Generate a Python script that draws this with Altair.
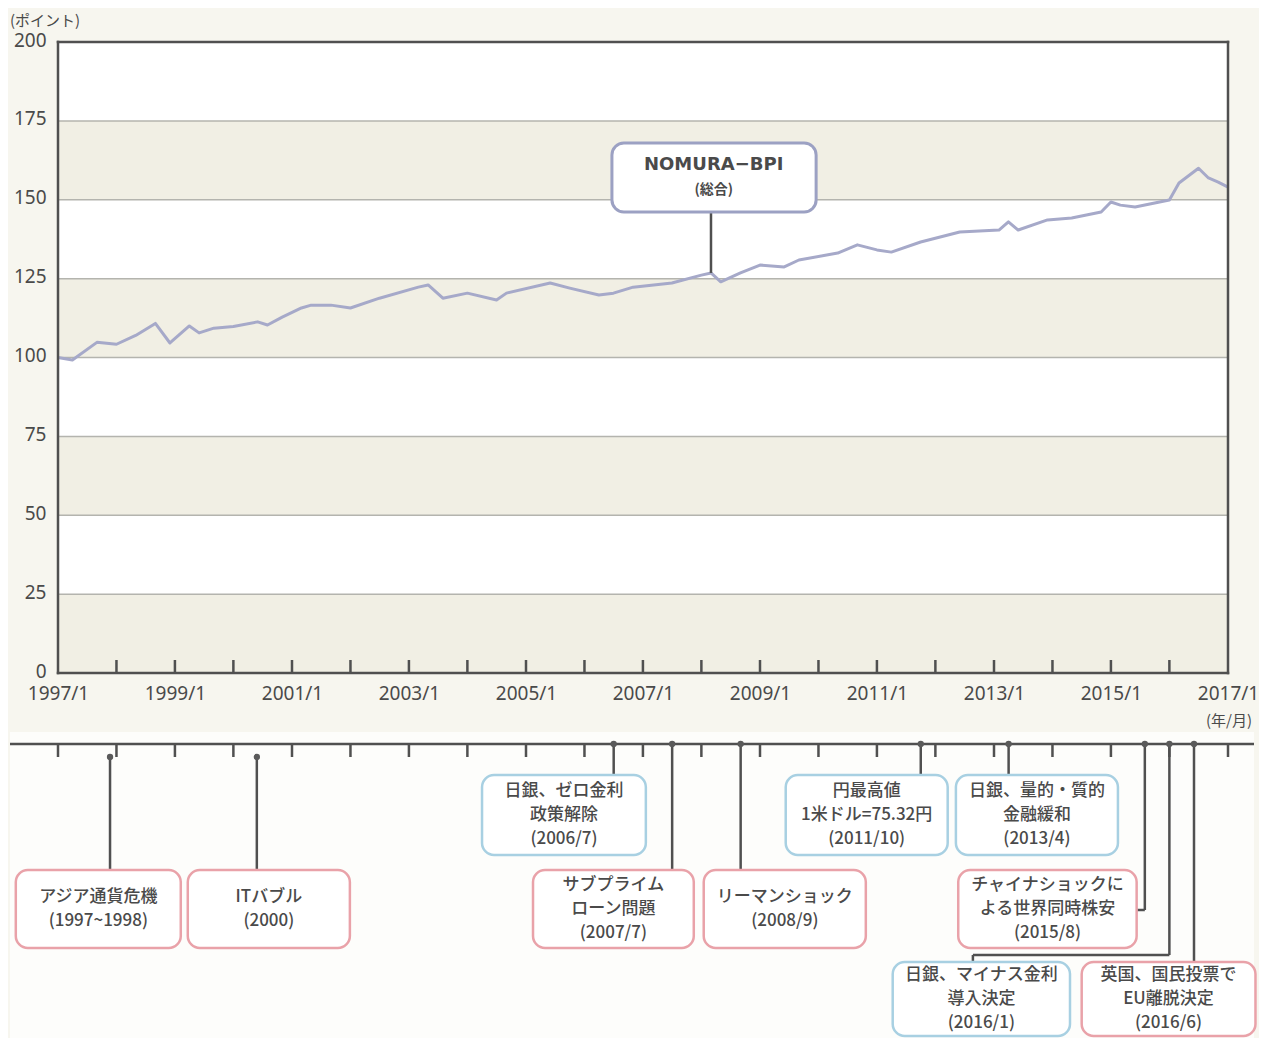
import altair as alt
import pandas as pd

# ---------------- data ----------------
bpi_dates = ["1997-01", "1997-04", "1997-09", "1998-01", "1998-05", "1998-09", "1998-12",
             "1999-04", "1999-06", "1999-09", "2000-01", "2000-06", "2000-08", "2000-11",
             "2001-03", "2001-05", "2001-09", "2002-01", "2002-07", "2003-03", "2003-05",
             "2003-08", "2004-01", "2004-07", "2004-09", "2005-06", "2005-10", "2006-04",
             "2006-07", "2006-11", "2007-07", "2008-01", "2008-03", "2008-05", "2008-09",
             "2009-01", "2009-06", "2009-09", "2010-05", "2010-09", "2011-01", "2011-04",
             "2011-10", "2012-06", "2013-02", "2013-04", "2013-06", "2013-12", "2014-05",
             "2014-11", "2015-01", "2015-03", "2015-06", "2016-01", "2016-03", "2016-07",
             "2016-09", "2016-11", "2017-01"]
bpi_values = [100.0, 99.2, 104.8, 104.2, 107.0, 110.8, 104.6,
              110.0, 107.8, 109.3, 109.8, 111.3, 110.3, 112.8,
              115.7, 116.6, 116.6, 115.7, 118.8, 122.3, 123.0,
              118.8, 120.4, 118.2, 120.4, 123.6, 122.0, 119.8,
              120.4, 122.3, 123.6, 126.1, 126.8, 124.0, 126.8,
              129.3, 128.7, 130.9, 133.1, 135.7, 134.1, 133.4,
              136.6, 139.8, 140.4, 143.0, 140.4, 143.6, 144.2,
              146.1, 149.3, 148.3, 147.7, 149.9, 155.3, 160.0,
              156.9, 155.6, 154.0]

y_ticks = [0, 25, 50, 75, 100, 125, 150, 175, 200]
band_low = [0, 50, 100, 150]
band_high = [25, 75, 125, 175]
x_label_years = [1997, 1999, 2001, 2003, 2005, 2007, 2009, 2011, 2013, 2015, 2017]
inner_tick_years = list(range(1998, 2017))
timeline_tick_years = list(range(1997, 2018))

series_label = ["NOMURA−BPI", "(総合)"]
series_anchor_date = "2008-03"
series_anchor_value = 126.8

event_labels = ["アジア通貨危機\n(1997~1998)",
                "ITバブル\n(2000)",
                "日銀、ゼロ金利\n政策解除\n(2006/7)",
                "サブプライム\nローン問題\n(2007/7)",
                "リーマンショック\n(2008/9)",
                "円最高値\n1米ドル=75.32円\n(2011/10)",
                "日銀、量的・質的\n金融緩和\n(2013/4)",
                "チャイナショックに\nよる世界同時株安\n(2015/8)",
                "日銀、マイナス金利\n導入決定\n(2016/1)",
                "英国、国民投票で\nEU離脱決定\n(2016/6)"]
event_years = [1997.89, 2000.40, 2006.50, 2007.50, 2008.67, 2011.75, 2013.25, 2015.58, 2016.0, 2016.42]
event_kind = ["market", "market", "boj", "market", "market", "boj", "boj", "market", "boj", "market"]

# ---------------- layout (styles / positions) ----------------
box_left_year = [1996.28, 1999.22, 2004.25, 2005.12, 2008.04, 2009.44, 2012.35, 2012.39, 2011.27, 2014.50]
box_right_year = [1999.10, 2001.99, 2007.05, 2007.87, 2010.81, 2012.21, 2015.12, 2015.44, 2014.30, 2017.47]
box_row = ["B", "B", "A", "B", "B", "A", "A", "B", "C", "C"]
row_top = {"A": 733, "B": 828, "C": 920}
row_bottom = {"A": 813, "B": 906, "C": 994}
TL_Y = 702
TL_TICK = 715
LINE_H = 24
RIGHT_EDGE = 1196

PINK = "#e9a2a9"
BLUE = "#a8d0e2"
DARK = "#505050"
TEXT = "#4a4a4a"
LINE = "#a6a9c9"
BAND = "#f1efe4"
CREAM = "#f7f6ef"
JP = "Noto Sans CJK JP"
LAT = "Noto Sans"

PLOT_W = 1170
TOP_H = 631            # pixel height of the 0-200 panel
PLOT_H = 996
UNIT_PX = TOP_H / 200.0
Y_MAX = 200.0
Y_MIN = Y_MAX - PLOT_H / UNIT_PX


def fy(v):
    """fractional year -> timestamp"""
    y = int(v // 1)
    a = pd.Timestamp(year=y, month=1, day=1)
    b = pd.Timestamp(year=y + 1, month=1, day=1)
    return a + (b - a) * (v - y)


def py(px):
    """vertical layout offset (px from top of plot) -> y-scale value"""
    return Y_MAX - px / UNIT_PX


X0 = pd.Timestamp("1997-01-01")
X1 = pd.Timestamp("2017-01-01")
xs = alt.Scale(domain=[alt.DateTime(year=1997, month=1, date=1),
                       alt.DateTime(year=2017, month=1, date=1)])
ys = alt.Scale(domain=[Y_MIN, Y_MAX], nice=False, zero=False)

AX = alt.Axis(values=[alt.DateTime(year=y, month=1, date=1) for y in x_label_years],
              format="%Y/%-m", offset=-(PLOT_H - TOP_H), domain=False, ticks=False,
              grid=False, labelFontSize=19, labelFont=LAT, labelColor=TEXT,
              labelPadding=11, labelFlush=False, labelOverlap=False, title=None)
AY = alt.Axis(values=y_ticks, domain=False, ticks=False, grid=False,
              labelFontSize=19, labelFont=LAT, labelColor=TEXT, labelPadding=12,
              labelOffset=-2, title=None)


def X(f):
    return alt.X(f, scale=xs, axis=AX, title=None)


def Y(f):
    return alt.Y(f, scale=ys, axis=AY, title=None)


one = pd.DataFrame({"k": [0]})

# lower white area
bg_low = alt.Chart(one).mark_rect(color="#fdfdfb").encode(
    x=alt.value(-48), x2=alt.value(RIGHT_EDGE), y=alt.value(690), y2=alt.value(PLOT_H))

plot_df = pd.DataFrame({"x0": [X0], "x1": [X1], "y0": [0], "y1": [200]})
plot_bg = alt.Chart(plot_df).mark_rect(color="#ffffff").encode(
    x=X("x0:T"), x2="x1:T", y=Y("y0:Q"), y2="y1:Q")

bands_df = pd.DataFrame({"x0": [X0] * len(band_low), "x1": [X1] * len(band_low),
                         "lo": band_low, "hi": band_high})
bands = alt.Chart(bands_df).mark_rect(color=BAND).encode(
    x=X("x0:T"), x2="x1:T", y=Y("lo:Q"), y2="hi:Q")

grid_df = pd.DataFrame({"x0": [X0] * 7, "x1": [X1] * 7, "y": y_ticks[1:-1]})
grid = alt.Chart(grid_df).mark_rule(color="#b4b4ae", strokeWidth=1.5).encode(
    x=X("x0:T"), x2="x1:T", y=Y("y:Q"))

line_df = pd.DataFrame({"date": pd.to_datetime(bpi_dates), "value": bpi_values})
line = alt.Chart(line_df).mark_line(color=LINE, strokeWidth=3, strokeJoin="round").encode(
    x=X("date:T"), y=Y("value:Q"))

frame_df = pd.DataFrame({"x0": [X0, X1, X0, X0], "x1": [X0, X1, X1, X1],
                         "y0": [0, 0, 200, 0], "y1": [200, 200, 200, 0]})
frame = alt.Chart(frame_df).mark_rule(color=DARK, strokeWidth=2.5, strokeCap="square").encode(
    x=X("x0:T"), x2="x1:T", y=Y("y0:Q"), y2="y1:Q")

inner_df = pd.DataFrame({"x": [pd.Timestamp(year=y, month=1, day=1) for y in inner_tick_years],
                         "y0": [0.0] * len(inner_tick_years),
                         "y1": [py(TOP_H - 13)] * len(inner_tick_years)})
inner_ticks = alt.Chart(inner_df).mark_rule(color=DARK, strokeWidth=2.5).encode(
    x=X("x:T"), y=Y("y0:Q"), y2="y1:Q")

# series annotation box
nb_df = pd.DataFrame({"x0": [fy(2006.47)], "x1": [fy(2009.96)], "y0": [146.1], "y1": [168.0]})
nbox = alt.Chart(nb_df).mark_rect(fill="#ffffff", stroke="#9ca1c3", strokeWidth=3,
                                  cornerRadius=12).encode(
    x=X("x0:T"), x2="x1:T", y=Y("y0:Q"), y2="y1:Q")
nc_df = pd.DataFrame({"x": [pd.Timestamp(series_anchor_date)], "y0": [series_anchor_value], "y1": [146.1]})
nconn = alt.Chart(nc_df).mark_rule(color=DARK, strokeWidth=2.5).encode(
    x=X("x:T"), y=Y("y0:Q"), y2="y1:Q")
nt1 = alt.Chart(pd.DataFrame({"x": [fy(2008.21)], "y": [161.0], "t": [series_label[0]]})).mark_text(
    font="DejaVu Sans", fontWeight="bold", fontSize=18, color=TEXT, baseline="middle").encode(
    x=X("x:T"), y=Y("y:Q"), text="t:N")
nt2 = alt.Chart(pd.DataFrame({"x": [fy(2008.21)], "y": [153.1], "t": [series_label[1]]})).mark_text(
    font=JP, fontWeight="bold", fontSize=14, color=TEXT, baseline="middle").encode(
    x=X("x:T"), y=Y("y:Q"), text="t:N")

# timeline
tl_rule = alt.Chart(one).mark_rule(color=DARK, strokeWidth=2.5).encode(
    x=alt.value(-48), x2=alt.value(RIGHT_EDGE), y=alt.value(TL_Y))
tl_df = pd.DataFrame({"x": [pd.Timestamp(year=y, month=1, day=1) for y in timeline_tick_years],
                      "y0": [py(TL_Y)] * len(timeline_tick_years),
                      "y1": [py(TL_TICK)] * len(timeline_tick_years)})
tl_ticks = alt.Chart(tl_df).mark_rule(color=DARK, strokeWidth=2.5).encode(
    x=X("x:T"), y=Y("y0:Q"), y2="y1:Q")

seg_x0, seg_x1, seg_y0, seg_y1 = [], [], [], []
for i, ev in enumerate(event_years):
    start = TL_TICK if i < 2 else TL_Y
    if i == 7:
        seg_x0 += [fy(ev), fy(box_right_year[i])]
        seg_x1 += [fy(ev), fy(ev)]
        seg_y0 += [start, 868]
        seg_y1 += [868, 868]
    elif i == 8:
        mid = 2012.64
        seg_x0 += [fy(ev), fy(mid), fy(mid)]
        seg_x1 += [fy(ev), fy(ev), fy(mid)]
        seg_y0 += [start, 913, 913]
        seg_y1 += [913, 913, row_top[box_row[i]]]
    else:
        seg_x0.append(fy(ev))
        seg_x1.append(fy(ev))
        seg_y0.append(start)
        seg_y1.append(row_top[box_row[i]])
seg_df = pd.DataFrame({"x0": seg_x0, "x1": seg_x1,
                       "y0": [py(v) for v in seg_y0], "y1": [py(v) for v in seg_y1]})
conns = alt.Chart(seg_df).mark_rule(color=DARK, strokeWidth=2.5).encode(
    x=X("x0:T"), x2="x1:T", y=Y("y0:Q"), y2="y1:Q")

dot_df = pd.DataFrame({"x": [fy(e) for e in event_years],
                       "y": [py(TL_TICK if i < 2 else TL_Y) for i in range(len(event_years))]})
dots = alt.Chart(dot_df).mark_point(filled=True, size=40, color="#5a5a5a", opacity=1).encode(
    x=X("x:T"), y=Y("y:Q"))

n_lines = [lab.count("\n") + 1 for lab in event_labels]
box_df = pd.DataFrame({
    "x0": [fy(v) for v in box_left_year], "x1": [fy(v) for v in box_right_year],
    "xc": [fy((a + b) / 2) for a, b in zip(box_left_year, box_right_year)],
    "y0": [py(row_top[r]) for r in box_row], "y1": [py(row_bottom[r]) for r in box_row],
    "yt": [py((row_top[r] + row_bottom[r]) / 2 - (n - 1) * LINE_H / 2)
           for r, n in zip(box_row, n_lines)],
    "kind": event_kind, "label": event_labels})
boxes = alt.Chart(box_df).mark_rect(fill="#ffffff", strokeWidth=2.5, cornerRadius=12).encode(
    x=X("x0:T"), x2="x1:T", y=Y("y0:Q"), y2="y1:Q",
    stroke=alt.Stroke("kind:N", scale=alt.Scale(domain=["market", "boj"], range=[PINK, BLUE]),
                      legend=None))
box_text = alt.Chart(box_df).mark_text(font=JP, fontSize=17, fontWeight=500, lineHeight=LINE_H,
                                       color=TEXT, lineBreak="\n", baseline="middle",
                                       align="center").encode(
    x=X("xc:T"), y=Y("yt:Q"), text="label:N")

unit_y = alt.Chart(one).mark_text(text="(ポイント)", font=JP, fontSize=15, color=TEXT,
                                  align="left", baseline="middle").encode(
    x=alt.value(-48), y=alt.value(-21))
unit_x = alt.Chart(one).mark_text(text="(年/月)", font=JP, fontSize=15, color=TEXT,
                                  align="right", baseline="middle").encode(
    x=alt.value(1194), y=alt.value(679))

chart = alt.layer(
    bg_low, plot_bg, bands, grid, line, frame, inner_ticks,
    nconn, nbox, nt1, nt2,
    tl_rule, tl_ticks, conns, dots, boxes, box_text,
    unit_y, unit_x
).properties(
    width=PLOT_W, height=PLOT_H,
    padding={"left": 0, "top": 6, "right": 0, "bottom": 0},
    background=CREAM
).configure_view(stroke=None)

chart.save("out.html", embed_options={"renderer": "svg", "actions": False})
